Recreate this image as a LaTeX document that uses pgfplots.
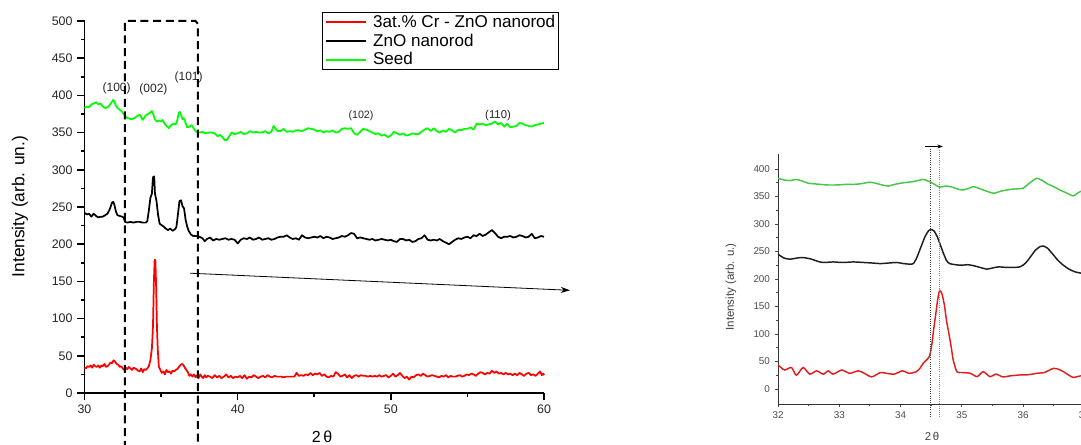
\documentclass[border=0pt]{standalone}
\usepackage{pgfplots}
\pgfplotsset{compat=1.18}
\usepackage{fontspec}
\setmainfont{Liberation Sans}
\usetikzlibrary{arrows.meta}
\definecolor{oRed}{RGB}{255,0,0}
\definecolor{oGreen}{RGB}{0,255,0}
\definecolor{iGreen}{RGB}{70,200,70}
\definecolor{iRed}{RGB}{225,30,30}
\definecolor{iBlack}{RGB}{30,30,30}
\begin{document}
\begin{tikzpicture}
\begin{axis}[
  at={(63.375pt,39pt)}, anchor=south west,
  scale only axis, width=344.625pt, height=279pt,
  xmin=30, xmax=60, ymin=0, ymax=500,
  axis x line*=bottom, axis y line*=left,
  axis line style={-, line width=1.4pt},
  xtick={30,40,50,60}, ytick={0,50,...,500},
  minor x tick num=1, minor y tick num=1,
  tick align=outside,
  major tick length=5.5pt, minor tick length=2.8pt,
  every tick/.style={black, line width=1.2pt},
  tick label style={font=\fontsize{9.3}{10}\selectfont, text=black!85},
  /pgf/number format/assume math mode=true,
  clip=false,
  xlabel={2\,θ},
  xlabel style={at={(axis description cs:0.5169,-0.118)}, anchor=center, font=\fontsize{12}{14}\selectfont},
  ylabel={Intensity (arb. un.)},
  ylabel style={at={(axis description cs:-0.1404,0.501)}, anchor=center, rotate=0, font=\fontsize{13}{15}\selectfont},
  legend style={at={(0.5169,1.0242)}, anchor=north west, draw=black, line width=0.8pt,
    font=\fontsize{12.8}{14}\selectfont, inner xsep=1.5pt, inner ysep=1pt, row sep=1.2pt,
    nodes={inner sep=1pt}},
  legend image code/.code={\draw[#1, line width=1.5pt] (0pt,0pt) -- (30pt,0pt); \path (34pt,0pt);},
  legend cell align=left,
]
\addplot[oRed, line width=1.3pt, line join=round] coordinates {
(30.0,34)(30.1,33)(30.2,36)(30.3,35)(30.4,37)(30.5,34)(30.6,38)(30.7,36)(30.8,35)(30.9,37)
(31.0,34)(31.1,37)(31.2,36)(31.3,39)(31.4,35)(31.5,36)(31.6,38)(31.7,41)(31.8,40)(31.9,44)
(32.0,42)(32.1,39)(32.2,38)(32.3,35)(32.4,36)(32.5,33)(32.6,31)(32.7,34)(32.8,32)(32.9,35)
(33.0,33)(33.1,31)(33.2,34)(33.3,33)(33.4,32)(33.5,30)(33.6,29)(33.7,33)(33.8,28)(33.9,32)
(34.0,31)(34.1,33)(34.2,36)(34.3,44)(34.4,60)(34.47,89)(34.53,150)(34.58,179)(34.63,178)(34.68,140)
(34.73,89)(34.78,60)(34.85,36)(34.95,31)(35.05,27)(35.15,29)(35.25,25)(35.35,31)(35.45,28)(35.55,29)
(35.65,26)(35.75,30)(35.85,29)(35.95,31)(36.05,32)(36.2,36)(36.35,39)(36.45,38)(36.55,34)(36.65,31)
(36.75,28)(36.85,23)(36.95,25)(37.05,22)(37.15,25)(37.25,21)(37.35,24)(37.45,20)(37.55,25)(37.65,22)
(37.75,20)(37.85,24)(37.95,21)(38.05,23)(38.2,22)(38.35,20)(38.5,24)(38.65,21)(38.8,23)(38.95,20)
(39.1,22)(39.25,25)(39.4,21)(39.55,23)(39.7,20)(39.85,22)(40.0,21)(40.15,23)(40.3,20)(40.45,24)
(40.6,19)(40.75,22)(40.9,21)(41.05,24)(41.2,22)(41.35,20)(41.5,22)(41.65,23)(41.8,21)(41.95,24)
(42.1,22)(42.25,21)(42.4,23)(42.55,22)(42.7,22)(42.85,22)(43.0,21)(43.15,22)(43.3,22)(43.5,22)
(43.7,22)(43.85,27)(44.0,23)(44.15,24)(44.3,23)(44.45,25)(44.6,24)(44.75,27)(44.9,24)(45.05,26)
(45.2,25)(45.35,27)(45.5,23)(45.65,25)(45.8,22)(45.95,21)(46.1,23)(46.25,22)(46.4,28)(46.55,26)
(46.7,22)(46.85,23)(47.0,25)(47.15,21)(47.3,24)(47.45,20)(47.6,23)(47.75,24)(47.9,22)(48.05,24)
(48.2,23)(48.35,23)(48.5,22)(48.65,23)(48.8,22)(48.95,23)(49.1,22)(49.25,24)(49.4,22)(49.55,23)
(49.7,24)(49.85,21)(50.0,23)(50.15,26)(50.3,22)(50.45,24)(50.6,27)(50.75,23)(50.9,20)(51.05,22)
(51.2,18)(51.35,22)(51.5,21)(51.65,24)(51.8,25)(51.95,23)(52.1,26)(52.25,24)(52.4,22)(52.55,23)
(52.7,24)(52.85,23)(53.0,22)(53.15,21)(53.3,23)(53.45,22)(53.6,24)(53.75,21)(53.9,23)(54.05,22)
(54.2,22)(54.35,23)(54.5,24)(54.65,22)(54.8,23)(54.95,25)(55.1,24)(55.25,26)(55.4,25)(55.55,23)
(55.7,26)(55.85,28)(56.0,27)(56.15,25)(56.3,27)(56.45,26)(56.6,30)(56.75,27)(56.9,29)(57.05,26)
(57.2,27)(57.35,25)(57.5,27)(57.65,25)(57.8,26)(57.95,24)(58.1,26)(58.25,24)(58.4,27)(58.55,25)
(58.7,23)(58.85,26)(59.0,27)(59.15,24)(59.3,25)(59.45,23)(59.6,26)(59.75,29)(59.85,24)(59.95,26)(60.0,24)
};
\addlegendentry{3at.\% Cr - ZnO nanorod}
\addplot[black, line width=1.3pt, line join=round] coordinates {
(30.0,242)(30.15,240)(30.3,241)(30.45,237)(30.6,241)(30.75,238)(30.9,236)(31.05,237)(31.2,237)(31.35,239)
(31.5,241)(31.65,247)(31.8,256)(31.88,257)(31.95,253)(32.05,244)(32.15,239)(32.3,238)(32.45,237)(32.55,236)
(32.65,230)(32.8,229)(33.0,230)(33.2,229)(33.4,230)(33.6,230)(33.8,229)(34.0,229)(34.1,231)(34.2,245)
(34.3,262)(34.4,268)(34.47,290)(34.55,291)(34.6,268)(34.7,258)(34.8,240)(34.9,228)(35.0,226)(35.15,224)
(35.3,221)(35.45,219)(35.6,221)(35.75,218)(35.9,220)(36.0,223)(36.1,240)(36.2,258)(36.3,259)(36.4,251)
(36.5,248)(36.6,233)(36.7,224)(36.8,218)(36.95,213)(37.1,211)(37.3,211)(37.5,210)(37.7,208)(37.85,204)
(38.0,207)(38.2,209)(38.4,205)(38.6,207)(38.8,206)(39.0,207)(39.2,208)(39.4,206)(39.6,207)(39.8,206)
(40.0,201)(40.2,206)(40.4,208)(40.6,207)(40.8,209)(41.0,206)(41.2,207)(41.4,209)(41.6,206)(41.8,207)
(42.0,208)(42.2,206)(42.4,207)(42.6,209)(42.8,210)(43.0,210)(43.2,212)(43.4,209)(43.6,207)(43.8,208)
(44.0,206)(44.2,212)(44.4,209)(44.6,208)(44.8,209)(45.0,210)(45.2,209)(45.4,211)(45.6,208)(45.8,210)
(46.0,209)(46.2,207)(46.4,208)(46.6,209)(46.8,211)(47.0,210)(47.2,212)(47.4,215)(47.6,214)(47.8,208)
(48.0,209)(48.2,208)(48.4,207)(48.6,206)(48.8,207)(49.0,205)(49.2,206)(49.4,207)(49.6,206)(49.8,205)
(50.0,206)(50.2,204)(50.4,203)(50.6,207)(50.8,207)(51.0,205)(51.2,206)(51.4,203)(51.6,204)(51.8,207)
(52.0,208)(52.2,212)(52.4,206)(52.6,205)(52.8,206)(53.0,205)(53.2,207)(53.4,204)(53.6,202)(53.8,200)
(54.0,203)(54.2,206)(54.4,208)(54.6,207)(54.8,209)(55.0,210)(55.2,208)(55.4,212)(55.6,211)(55.8,214)
(56.0,211)(56.2,213)(56.4,216)(56.6,219)(56.8,215)(57.0,210)(57.2,208)(57.4,210)(57.6,210)(57.8,211)
(58.0,209)(58.2,210)(58.4,212)(58.6,211)(58.8,209)(59.0,210)(59.2,214)(59.4,208)(59.6,209)(59.8,211)(60.0,210)
};
\addlegendentry{ZnO nanorod}
\addplot[oGreen, line width=1.3pt, line join=round] coordinates {
(30.0,383)(30.15,385)(30.3,384)(30.45,388)(30.6,389)(30.75,391)(30.9,388)(31.05,389)(31.2,385)(31.35,383)
(31.5,384)(31.6,386)(31.75,390)(31.88,394)(31.95,392)(32.05,386)(32.15,383)(32.3,381)(32.45,378)(32.6,374)
(32.75,370)(32.9,369)(33.05,368)(33.2,369)(33.35,371)(33.5,373)(33.6,374)(33.7,371)(33.8,367)(33.9,370)
(34.0,373)(34.15,375)(34.3,377)(34.4,379)(34.5,374)(34.6,368)(34.7,365)(34.85,366)(35.0,365)(35.1,367)
(35.2,363)(35.35,359)(35.5,356)(35.65,360)(35.8,362)(35.95,361)(36.05,366)(36.15,376)(36.22,378)(36.3,374)
(36.4,368)(36.5,369)(36.6,363)(36.7,357)(36.85,358)(37.0,360)(37.15,355)(37.3,351)(37.5,350)(37.7,351)
(37.9,349)(38.1,350)(38.3,350)(38.5,349)(38.7,345)(38.85,347)(39.0,344)(39.15,340)(39.3,340)(39.45,345)
(39.6,350)(39.8,348)(40.0,349)(40.2,351)(40.4,348)(40.6,349)(40.8,352)(41.0,350)(41.2,351)(41.4,350)
(41.6,350)(41.8,352)(42.0,349)(42.2,351)(42.35,359)(42.45,356)(42.6,352)(42.8,352)(43.0,355)(43.2,351)
(43.4,352)(43.6,351)(43.8,353)(44.0,353)(44.2,352)(44.4,354)(44.6,356)(44.8,355)(45.0,354)(45.2,352)
(45.4,353)(45.6,350)(45.8,352)(46.0,351)(46.2,353)(46.4,350)(46.6,351)(46.8,355)(47.0,356)(47.2,355)
(47.4,356)(47.6,349)(47.8,347)(48.0,351)(48.2,355)(48.4,354)(48.6,352)(48.8,350)(49.0,348)(49.2,349)
(49.4,346)(49.6,347)(49.8,344)(50.0,346)(50.2,351)(50.4,349)(50.6,347)(50.8,349)(51.0,346)(51.2,347)
(51.4,349)(51.6,348)(51.8,348)(52.0,351)(52.2,354)(52.4,356)(52.6,352)(52.8,356)(53.0,352)(53.2,350)
(53.4,353)(53.6,351)(53.8,355)(54.0,353)(54.2,350)(54.4,354)(54.6,353)(54.8,355)(55.0,355)(55.2,357)
(55.4,354)(55.6,362)(55.8,361)(56.0,362)(56.2,360)(56.4,361)(56.6,362)(56.8,365)(57.0,361)(57.2,363)
(57.4,358)(57.6,362)(57.8,357)(58.0,358)(58.2,359)(58.4,363)(58.6,362)(58.8,360)(59.0,359)(59.2,358)
(59.4,360)(59.6,361)(59.8,362)(60.0,363)
};
\addlegendentry{Seed}
\node[font=\fontsize{9}{10}\selectfont, text=black!85] at (axis cs:32.1,410) {(100)};
\node[font=\fontsize{9}{10}\selectfont, text=black!85] at (axis cs:34.5,408) {(002)};
\node[font=\fontsize{9}{10}\selectfont, text=black!85] at (axis cs:36.8,424) {(101)};
\node[font=\fontsize{8}{10}\selectfont, text=black!85] at (axis cs:48.05,373) {(102)};
\node[font=\fontsize{8.5}{10}\selectfont, text=black!85] at (axis cs:57.0,373) {(110)};
\draw[line width=1.5pt, dash pattern=on 6pt off 3.5pt] (axis cs:32.64,-75) -- (axis cs:32.64,500) -- (axis cs:37.25,500) -- (axis cs:37.41,496) -- (axis cs:37.41,-75);
\draw[line width=0.6pt, -{Stealth[length=7pt,width=4.5pt]}] (axis cs:36.9,161) -- (axis cs:61.7,138);
\end{axis}

\begin{axis}[
  at={(583.5pt,30.75pt)}, anchor=south west,
  scale only axis, width=229.6875pt, height=187.5pt,
  xmin=32, xmax=37, ymin=-27.3, ymax=427.3,
  axis x line*=bottom, axis y line*=left,
  axis line style={-, line width=0.7pt, black!80},
  xtick={32,33,34,35,36,37}, ytick={0,50,...,400},
  minor x tick num=1, minor y tick num=1,
  tick align=outside,
  major tick length=2.5pt, minor tick length=1.5pt,
  every tick/.style={black!70, line width=0.6pt},
  tick label style={font=\fontsize{7.4}{8}\selectfont, text=black!70},
  /pgf/number format/assume math mode=true,
  clip=false,
  xlabel={2\,θ},
  xlabel style={at={(axis description cs:0.503,-0.128)}, anchor=center, font=\fontsize{8.5}{9}\selectfont, text=black!75},
  ylabel={Intensity (arb. u.)},
  ylabel style={at={(axis description cs:-0.1535,0.468)}, anchor=center, font=\fontsize{8.6}{9}\selectfont, text=black!75},
]
\addplot[iRed, line width=1.1pt, smooth, tension=0.4] coordinates {
(32.0,43.6)(32.05,39)(32.11,34.5)(32.22,39)(32.3,25)(32.41,39)(32.52,27)(32.63,33)(32.74,27)(32.82,33)
(32.9,27)(33.04,34.5)(33.17,28.5)(33.31,33)(33.4,29)(33.53,22)(33.67,29.7)(33.8,28)(33.9,27)(34.03,33)
(34.14,28.5)(34.26,31.5)(34.32,38)(34.37,46.7)(34.47,58.7)(34.51,80)(34.54,107)(34.58,140)(34.61,165)(34.64,179)
(34.68,172)(34.72,150)(34.75,125)(34.78,107)(34.83,75)(34.86,53)(34.92,31.5)(35.0,30)(35.14,28.5)(35.25,22.4)
(35.35,31.5)(35.46,22.4)(35.56,27)(35.67,22)(35.8,24)(35.95,25.5)(36.1,26)(36.22,28.5)(36.35,30)(36.5,37.6)
(36.6,35)(36.66,31.5)(36.75,25)(36.82,21)(36.93,23.6)(37.0,24)
};
\addplot[iBlack, line width=1.1pt, smooth, tension=0.4] coordinates {
(32.0,245)(32.1,238)(32.2,236)(32.3,238)(32.41,239)(32.55,236)(32.65,232)(32.74,230)(32.9,231)(33.05,230)
(33.23,231)(33.4,230)(33.55,229)(33.67,228)(33.8,229)(33.94,230)(34.05,228)(34.15,227)(34.21,228)(34.27,240)
(34.34,260)(34.4,277)(34.46,288)(34.5,290)(34.55,287)(34.6,277)(34.65,262)(34.7,247)(34.75,234)(34.8,228)
(34.9,226)(35.0,225)(35.1,226)(35.2,224)(35.3,221)(35.41,218)(35.5,220)(35.6,222)(35.75,221)(35.95,222)
(36.05,230)(36.12,240)(36.2,252)(36.28,259)(36.33,260)(36.4,256)(36.48,246)(36.57,234)(36.66,225)(36.75,218)
(36.85,213)(36.93,211)(37.0,210)
};
\addplot[iGreen, line width=1.1pt, smooth, tension=0.4] coordinates {
(32.0,383)(32.1,380)(32.2,379)(32.3,381)(32.4,378)(32.5,374)(32.6,373)(32.7,372)(32.8,371)(32.96,371)
(33.1,372)(33.2,372)(33.34,373)(33.5,376)(33.6,374)(33.7,371)(33.8,369)(33.9,372)(34.05,375)(34.2,377)
(34.37,381)(34.45,378)(34.51,375)(34.6,369)(34.64,367)(34.75,369)(34.85,367)(34.95,363)(35.03,362)(35.12,365)
(35.19,368)(35.3,364)(35.4,360)(35.52,356)(35.65,360)(35.8,363)(35.9,364)(36.0,365)(36.1,374)(36.22,383)
(36.3,380)(36.4,373)(36.5,368)(36.6,362)(36.7,357)(36.82,351)(36.9,357)(37.0,362)
};
\draw[densely dotted, line width=0.7pt, black!75] (axis cs:34.49,-51) -- (axis cs:34.49,436);
\draw[densely dotted, line width=0.6pt, black!45] (axis cs:34.63,-51) -- (axis cs:34.63,436);
\draw[line width=0.6pt, -{Stealth[length=4pt,width=3pt]}] (axis cs:34.40,441) -- (axis cs:34.69,441);
\end{axis}
\pgfresetboundingbox
\useasboundingbox (0,0) rectangle (810.75pt,333.75pt);
\end{tikzpicture}
\end{document}
